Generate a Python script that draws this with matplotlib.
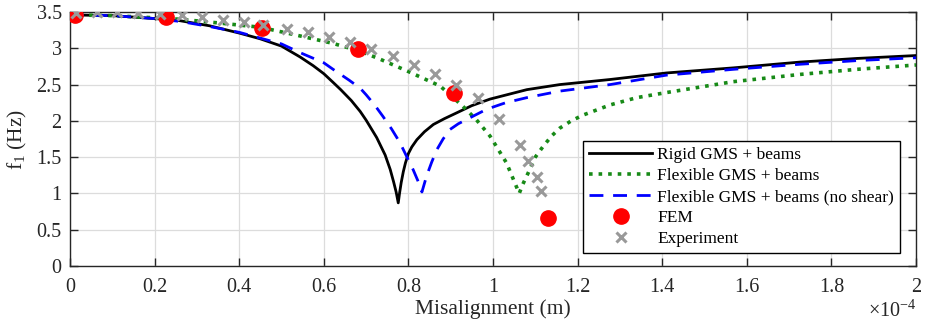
import matplotlib
matplotlib.use("Agg")
import matplotlib.pyplot as plt
from matplotlib.ticker import FormatStrFormatter

plt.rcParams['font.family'] = ['Liberation Serif', 'DejaVu Serif']
plt.rcParams['mathtext.fontset'] = 'custom'
plt.rcParams['mathtext.rm'] = 'Liberation Serif'
plt.rcParams['mathtext.it'] = 'Liberation Serif:italic'

# Misalignment in units of 1e-4 m, natural frequency f1 in Hz
rigid_x = [0, 0.1, 0.2, 0.26, 0.33, 0.40, 0.45, 0.50, 0.544, 0.575, 0.60, 0.622, 0.64, 0.665,
           0.686, 0.70, 0.725, 0.745, 0.757, 0.765, 0.771, 0.776, 0.779, 0.783, 0.788, 0.793,
           0.80, 0.808, 0.82, 0.838, 0.859, 0.885, 0.914, 0.95, 0.993, 1.08, 1.158, 1.277,
           1.41, 1.568, 1.726, 1.86, 2.0]
rigid_y = [3.46, 3.45, 3.41, 3.38, 3.31, 3.21, 3.13, 3.03, 2.88, 2.76, 2.65, 2.53, 2.43, 2.28,
           2.13, 2.01, 1.77, 1.53, 1.33, 1.16, 1.02, 0.87, 1.00, 1.15, 1.30, 1.42,
           1.55, 1.64, 1.74, 1.85, 1.95, 2.03, 2.11, 2.21, 2.30, 2.43, 2.50, 2.57,
           2.66, 2.73, 2.81, 2.86, 2.90]

flex_x = [0, 0.1, 0.2, 0.26, 0.35, 0.45, 0.544, 0.62, 0.686, 0.733, 0.796, 0.875, 0.929, 0.96,
          0.993, 1.032, 1.062, 1.07, 1.087, 1.10, 1.12, 1.14, 1.158, 1.185, 1.213, 1.277,
          1.34, 1.41, 1.568, 1.726, 1.86, 2.0]
flex_y = [3.46, 3.45, 3.42, 3.40, 3.35, 3.29, 3.17, 3.07, 2.96, 2.85, 2.69, 2.48, 2.20, 2.02,
          1.79, 1.42, 1.00, 1.12, 1.33, 1.50, 1.66, 1.80, 1.90, 2.00, 2.08, 2.22,
          2.32, 2.39, 2.54, 2.64, 2.71, 2.77]

noshear_x = [0, 0.1, 0.2, 0.26, 0.33, 0.40, 0.50, 0.544, 0.60, 0.622, 0.66, 0.686, 0.70, 0.72,
             0.74, 0.76, 0.78, 0.795, 0.811, 0.822, 0.832, 0.837, 0.843, 0.855, 0.867, 0.882,
             0.898, 0.918, 0.938, 0.985, 1.03, 1.08, 1.158, 1.277, 1.41, 1.568, 1.726, 1.86, 2.0]
noshear_y = [3.46, 3.45, 3.41, 3.37, 3.30, 3.22, 3.06, 2.94, 2.80, 2.71, 2.56, 2.45, 2.36, 2.22,
             2.06, 1.89, 1.70, 1.52, 1.33, 1.18, 1.02, 1.12, 1.24, 1.43, 1.60, 1.75,
             1.88, 1.96, 2.02, 2.16, 2.25, 2.32, 2.41, 2.50, 2.63, 2.71, 2.78, 2.83, 2.87]

fem_x = [0.012, 0.227, 0.454, 0.68, 0.908, 1.13]
fem_y = [3.46, 3.43, 3.28, 2.99, 2.39, 0.66]

exp_x = [0.014, 0.064, 0.111, 0.161, 0.213, 0.265, 0.312, 0.362, 0.411, 0.456, 0.513, 0.563,
         0.612, 0.662, 0.712, 0.764, 0.813, 0.863, 0.913, 0.965, 1.014, 1.064, 1.083,
         1.104, 1.113]
exp_y = [3.49, 3.50, 3.50, 3.48, 3.47, 3.46, 3.43, 3.39, 3.36, 3.32, 3.27, 3.22,
         3.15, 3.08, 2.99, 2.89, 2.77, 2.64, 2.49, 2.31, 2.03, 1.67, 1.44,
         1.23, 1.04]

labels = ["Rigid GMS + beams", "Flexible GMS + beams", "Flexible GMS + beams (no shear)",
          "FEM", "Experiment"]

fig = plt.figure(figsize=(9.26, 3.24), dpi=100)
ax = fig.add_axes([70/926, 58/324, 846/926, 254/324])

ax.plot(rigid_x, rigid_y, '-', color='black', lw=2.0, label=labels[0], zorder=3)
ax.plot(flex_x, flex_y, ':', color='#178a17', lw=2.6, label=labels[1], zorder=3)
ax.plot(noshear_x, noshear_y, '--', color='#0000ff', lw=2.0, dashes=(5, 3.5),
        label=labels[2], zorder=3)
ax.plot(fem_x, fem_y, 'o', color='#ff0000', ms=11, ls='none', label=labels[3], zorder=4)
ax.plot(exp_x, exp_y, 'x', color='#999999', ms=7.5, mew=2.2, ls='none', label=labels[4], zorder=5)

ax.set_xlim(0, 2)
ax.set_ylim(0, 3.5)
ax.set_xticks([0, 0.2, 0.4, 0.6, 0.8, 1.0, 1.2, 1.4, 1.6, 1.8, 2.0])
ax.set_yticks([0, 0.5, 1, 1.5, 2, 2.5, 3, 3.5])
ax.xaxis.set_major_formatter(FormatStrFormatter('%g'))
ax.yaxis.set_major_formatter(FormatStrFormatter('%g'))
ax.grid(True, color='#dcdcdc', lw=0.9)
ax.set_axisbelow(True)
ax.tick_params(direction='in', top=True, right=True, length=6, width=1.0,
               colors='#262626', labelsize=14.5, labelcolor='#262626')
ax.tick_params(axis='x', pad=9)
ax.tick_params(axis='y', pad=6)
for s in ax.spines.values():
    s.set_color('#262626')
    s.set_linewidth(1.0)

ax.set_xlabel('Misalignment (m)', fontsize=15.5, color='#262626', labelpad=1)
ax.set_ylabel('f$_1$ (Hz)', fontsize=15.5, color='#262626', labelpad=5)
ax.text(1.0, -0.135, r'$\times$10$^{-4}$', transform=ax.transAxes, ha='right', va='top',
        fontsize=14.5, color='#262626')

leg = ax.legend(loc='lower right', bbox_to_anchor=(0.981, 0.051), borderaxespad=0,
                fontsize=12.5, frameon=True, fancybox=False, edgecolor='black',
                handlelength=3.6, handletextpad=0.3, borderpad=0.35, labelspacing=0.28,
                framealpha=1)
leg.get_frame().set_linewidth(1.0)

fig.savefig('out.png', dpi=100)
